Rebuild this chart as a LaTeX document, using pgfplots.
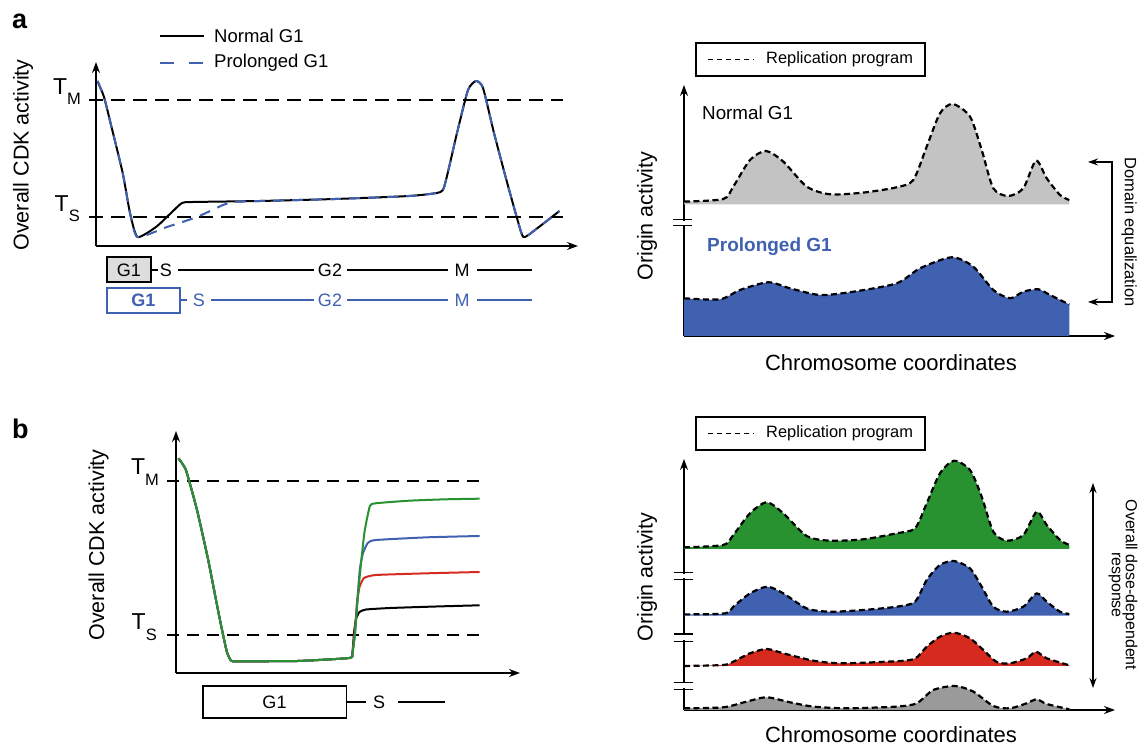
\documentclass[border=0pt]{standalone}
\usepackage{pgfplots}
\pgfplotsset{compat=1.18}
\usepackage{pgfplotstable}
\usepackage{fontspec}
\setmainfont{Liberation Sans}
\usetikzlibrary{arrows.meta}

\definecolor{myblue}{HTML}{4060B0}
\definecolor{mygreen}{HTML}{27922F}
\definecolor{myred}{HTML}{D62A1E}
\definecolor{lgray}{HTML}{C3C3C3}
\definecolor{dgray}{HTML}{9A9A9A}
\definecolor{boxgray}{HTML}{DDDDDD}
\newcommand{\fs}[1]{\fontsize{#1}{#1}\selectfont}

\pgfplotsset{panel/.style={scale only axis, axis lines=left,
  axis line style={line width=1.3pt, -{Stealth[length=11pt,width=8pt]}},
  xtick=\empty, ytick=\empty, clip=false, xmin=0, ymin=0, anchor=south west}}
\tikzset{prog/.style={black, dash pattern=on 6pt off 3.5pt, line width=2.2pt, smooth, tension=0.45}}

% panel a right: normal G1 (gray, baseline 131.7) and prolonged G1 (blue, baseline 0)
\pgfplotstableread{
x y
0 134.4
39.3 137
49.3 149.4
66 176
82 185
99.3 174.4
122.7 149.4
146 141.7
179.3 143.4
212.7 148.7
229.3 156
242.7 189.4
256 222.7
268.7 232
286 219.4
297.7 186
309.3 147.7
324.3 140
339.3 147.7
352 175.4
362.7 157.7
376 141
385.3 136
}\aNormal
\pgfplotstableread{
x y
0 37.7
36 36.7
56 46
84.3 53.7
106 47.7
136 41
169.3 44.3
212.7 52.7
236 67.7
267.7 78.7
289.3 69.3
309.3 46
326 37.7
339.3 44.3
354.3 46.7
366 41
385.3 31.5
}\aProlonged
% panel b right: four doses (baselines 161, 94.3, 44, 0.7)
\pgfplotstableread{
x y
0 162.7
39.3 165
49.3 175
66 196.7
82.7 207.7
99.3 196.7
122.7 174
146 169.3
179.3 170.7
212.7 176.7
231 181.7
242.7 206.7
256 236.7
270 249.3
286 240
297.7 213.3
309.3 178.3
322.7 169.3
339.3 175
352.7 198.3
362.7 185
376 170
385.3 165
}\bGreen
\pgfplotstableread{
x y
0 95.6
41 96.6
49.3 103.3
66 116.6
83.3 123.3
99.3 116.6
122.7 101.6
146 98.3
179.3 100
212.7 103.3
231 108.3
242.7 130
256 145
270 149
286 141.6
297.7 123.3
309.3 103.3
322.7 98.3
339.3 103.3
352.7 116.6
362.7 108.3
376 98.3
385.3 96
}\bBlue
\pgfplotstableread{
x y
0 44
39.3 45
49.3 48.3
66 56.7
82.7 61
99.3 56.7
129.3 49.3
156 46.7
196 48
229.3 50.7
242.7 63.3
256 73.3
270 77.3
286 71.7
299.3 60
312.7 48
326 46.7
342.7 51.7
352 58.3
362.7 51.7
385.3 44.7
}\bRed
\pgfplotstableread{
x y
0 1.7
39.3 2.7
62.7 8.4
82.7 12.7
106 7.7
129.3 3.4
162.7 1.7
212.7 3.4
232.7 6.7
249.3 20
271 24
289.3 18.4
309.3 4
326 1.7
342.7 6.7
352.7 10.7
362.7 6
385.3 0.7
}\bGray

\begin{document}
\begin{tikzpicture}
\path (0,0) rectangle (1144pt,747pt);

% ---------------- panel a left ----------------
\begin{axis}[panel, at={(96pt,501pt)}, width=482pt, height=184pt, xmax=482, ymax=184]
\addplot[black, line width=1.2pt, dash pattern=on 14pt off 8pt] coordinates {(-7,146) (467,146)};
\addplot[black, line width=1.2pt, dash pattern=on 14pt off 8pt] coordinates {(-7,29) (467,29)};
\addplot[black, line width=2pt, smooth, tension=0.35] coordinates {
(1.4,165) (8,149) (15.5,119) (26.7,73) (34,33) (41.5,9) (60,19) (75,33) (86,43) (97,44)
(164,45) (239,47) (313,50) (344.5,54) (350,66) (361,113) (372,156) (380,165) (387,158)
(398,113) (409.6,69) (420.7,29) (427.4,9) (439,16) (463.5,35)};
\addplot[myblue, line width=2pt, smooth, tension=0.35, dash pattern=on 11pt off 8pt] coordinates {
(1.4,165) (8,149) (15.5,119) (26.7,73) (34,33) (41.5,9) (71,19) (101,29) (127,41) (138,44)
(164,45) (239,47) (313,50) (344.5,54) (350,66) (361,113) (372,156) (380,165) (387,158)
(398,113) (409.6,69) (420.7,29) (427.4,9) (439,16) (463.5,35)};
\end{axis}

% ---------------- panel b left ----------------
\begin{axis}[panel, at={(176pt,74pt)}, width=344pt, height=242pt, xmax=344, ymax=242]
\addplot[black, line width=1.2pt, dash pattern=on 12pt off 8pt] coordinates {(-9,192) (309,192)};
\addplot[black, line width=1.2pt, dash pattern=on 12pt off 8pt] coordinates {(-9,38) (309,38)};
\addplot[black, line width=2pt, smooth, tension=0.3] coordinates {
(2.4,214.7) (9.9,203) (21,163) (32.2,113) (43.3,56.3) (50.8,21.3) (55.2,12.3) (61.9,11.7)
(121.4,12) (173.4,15) (176.4,19.7) (178,40) (180,54) (183.5,61) (190,63.5) (214.3,65) (260,66.5) (303.6,67.7)};
\addplot[myred, line width=2pt, smooth, tension=0.3] coordinates {
(2.4,214.7) (9.9,203) (21,163) (32.2,113) (43.3,56.3) (50.8,21.3) (55.2,12.3) (61.9,11.7)
(121.4,12) (173.4,15) (176.4,19.7) (179,45) (181,70) (183.5,86) (188,95) (200,98) (251.5,99.7) (303.6,101)};
\addplot[myblue, line width=2pt, smooth, tension=0.3] coordinates {
(2.4,214.7) (9.9,203) (21,163) (32.2,113) (43.3,56.3) (50.8,21.3) (55.2,12.3) (61.9,11.7)
(121.4,12) (173.4,15) (176.4,19.7) (179,39.7) (181.5,75) (184,105) (187,120) (192,130.3) (200,133) (251.5,135.7) (303.6,137)};
\addplot[mygreen, line width=2pt, smooth, tension=0.3] coordinates {
(2.4,214.7) (9.9,203) (21,163) (32.2,113) (43.3,56.3) (50.8,21.3) (55.2,12.3) (61.9,11.7)
(121.4,12) (173.4,15) (176.4,19.7) (179,39.7) (182.7,86.3) (188.3,139.7) (193.9,167) (199.5,169.7) (233,172.3) (270,173.7) (303.6,174.3)};
\end{axis}

% ---------------- panel a right ----------------
\begin{axis}[panel, at={(684pt,411pt)}, width=431pt, height=251pt, xmax=431, ymax=251]
\addplot[fill=lgray, draw=none, smooth, tension=0.45] table {\aNormal} -- (axis cs:385.3,131.7) -- (axis cs:0,131.7) -- cycle;
\addplot[prog] table {\aNormal};
\addplot[fill=myblue, draw=none, smooth, tension=0.45] table {\aProlonged} -- (axis cs:385.3,0) -- (axis cs:0,0) -- cycle;
\addplot[prog] table {\aProlonged};
\end{axis}

% ---------------- panel b right ----------------
\begin{axis}[panel, at={(684pt,37pt)}, width=431pt, height=251pt, xmax=431, ymax=251]
\addplot[fill=mygreen, draw=none, smooth, tension=0.45] table {\bGreen} -- (axis cs:385.3,161) -- (axis cs:0,161) -- cycle;
\addplot[prog] table {\bGreen};
\addplot[fill=myblue, draw=none, smooth, tension=0.45] table {\bBlue} -- (axis cs:385.3,94.3) -- (axis cs:0,94.3) -- cycle;
\addplot[prog] table {\bBlue};
\addplot[fill=myred, draw=none, smooth, tension=0.45] table {\bRed} -- (axis cs:385.3,44) -- (axis cs:0,44) -- cycle;
\addplot[prog] table {\bRed};
\addplot[fill=dgray, draw=none, smooth, tension=0.45] table {\bGray} -- (axis cs:385.3,0) -- (axis cs:0,0) -- cycle;
\addplot[prog] table {\bGray};
\end{axis}

% ---------------- annotations (pixel coordinates, origin top-left) ----------------
\begin{scope}[x=1pt, y=-1pt, shift={(0pt,747pt)}]
% panel letters
\node[anchor=base west, inner sep=0] at (12,29) {\fs{27}\bfseries a};
\node[anchor=base west, inner sep=0] at (12,439) {\fs{27}\bfseries b};

% panel a left: legend
\draw[black, line width=2pt] (160,36) -- (204,36);
\node[anchor=west, inner sep=0] at (214,36) {\fs{18.5}Normal G1};
\draw[myblue, line width=2.2pt, dash pattern=on 14pt off 15pt] (160,63) -- (204,63);
\node[anchor=west, inner sep=0] at (214,63) {\fs{18.5}Prolonged G1};
% y label
\node[rotate=90, inner sep=0] at (23,155) {\fs{21.5}Overall CDK activity};
% thresholds
\node[anchor=base east, inner sep=0] at (81,95) {\fs{23}T\raisebox{-10pt}{\fs{16.5}M}};
\node[anchor=base east, inner sep=0] at (80,212) {\fs{23}T\raisebox{-10pt}{\fs{16.5}S}};
% phase bars
\draw[black, line width=1.2pt, fill=boxgray] (107,257) rectangle (151,282);
\node[inner sep=0] at (129,270) {\fs{18}G1};
\draw[black, line width=1.1pt] (151,270) -- (158,270);
\node[inner sep=0] at (166,270) {\fs{18}S};
\draw[black, line width=1.1pt] (178,270) -- (314,270);
\node[inner sep=0] at (330,270) {\fs{18}G2};
\draw[black, line width=1.1pt] (347,270) -- (448,270);
\node[inner sep=0] at (462,270) {\fs{18}M};
\draw[black, line width=1.1pt] (477,270) -- (532,270);

\draw[myblue, line width=2pt] (107,288) rectangle (180,313);
\node[inner sep=0, text=myblue] at (143.5,300.5) {\fs{18}\bfseries G1};
\draw[myblue, line width=1.1pt] (180,300) -- (187,300);
\node[inner sep=0, text=myblue] at (199,300) {\fs{18}S};
\draw[myblue, line width=1.1pt] (211,300) -- (314,300);
\node[inner sep=0, text=myblue] at (330,300) {\fs{18}G2};
\draw[myblue, line width=1.1pt] (347,300) -- (448,300);
\node[inner sep=0, text=myblue] at (462,300) {\fs{18}M};
\draw[myblue, line width=1.1pt] (477,300) -- (532,300);

% panel b left
\node[rotate=90, inner sep=0] at (98.5,545) {\fs{21.5}Overall CDK activity};
\node[anchor=base east, inner sep=0] at (159,475) {\fs{23}T\raisebox{-11pt}{\fs{16.5}M}};
\node[anchor=base east, inner sep=0] at (157,630) {\fs{23}T\raisebox{-11pt}{\fs{16.5}S}};
\draw[black, line width=1.2pt] (203,686) rectangle (346.5,718);
\node[inner sep=0] at (274.5,702) {\fs{18}G1};
\draw[black, line width=1.1pt] (346.5,702) -- (366,702);
\node[inner sep=0] at (379,702) {\fs{18}S};
\draw[black, line width=1.1pt] (398,702) -- (445,702);

% panel a right
\draw[black, line width=1.2pt] (696,43) rectangle (925,76);
\draw[black, line width=1.5pt, dash pattern=on 5pt off 4pt] (708,59.5) -- (754,59.5);
\node[anchor=west, inner sep=0] at (766,59.5) {\fs{16.4}Replication program};
\node[anchor=west, inner sep=0] at (702,112.5) {\fs{18.8}Normal G1};
\node[anchor=west, inner sep=0, text=myblue] at (707,247) {\fs{19}\bfseries Prolonged G1};
\node[rotate=90, inner sep=0] at (647,216) {\fs{21.5}Origin activity};
\node[inner sep=0] at (891,363) {\fs{22}Chromosome coordinates};
\fill[white] (679,220.6) rectangle (689,224.7);
\draw[black, line width=1.3pt] (673,219.5) -- (692,219.5) (673,225.8) -- (692,225.8);
\draw[black, line width=1.3pt, {Stealth[length=10pt,width=7pt]}-{Stealth[length=10pt,width=7pt]}] (1088,162) -- (1112,162) -- (1112,302) -- (1088,302);
\node[rotate=-90, inner sep=0] at (1129,232) {\fs{16.4}Domain equalization};

% panel b right
\draw[black, line width=1.2pt] (696,417) rectangle (925,450);
\draw[black, line width=1.5pt, dash pattern=on 5pt off 4pt] (708,433.5) -- (754,433.5);
\node[anchor=west, inner sep=0] at (766,433.5) {\fs{16.4}Replication program};
\node[rotate=90, inner sep=0] at (647,577) {\fs{21.5}Origin activity};
\node[inner sep=0] at (891,735) {\fs{22}Chromosome coordinates};
\foreach \ya/\yb in {572.7/579.3, 634/641.2, 682.3/689.3}{
  \fill[white] (679,\ya+1.1) rectangle (689,\yb-1.1);
  \draw[black, line width=1.3pt] (674,\ya) -- (693,\ya) (674,\yb) -- (693,\yb);
}
\draw[black, line width=1.3pt, {Stealth[length=10pt,width=7pt]}-{Stealth[length=10pt,width=7pt]}] (1093,483) -- (1093,688);
\node[rotate=-90, inner sep=0, align=center] at (1123,585) {\fs{16}Overall dose-dependent\\[2pt]\fs{16}response};
\end{scope}
\end{tikzpicture}
\end{document}
